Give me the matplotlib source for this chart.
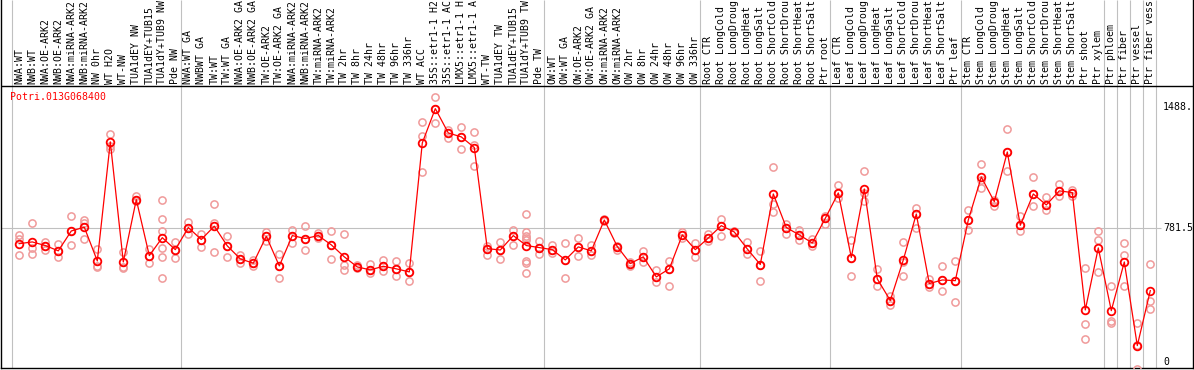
import matplotlib
matplotlib.use("Agg")
import matplotlib.pyplot as plt

# ---------------- data ----------------
labels = [
    "NWA:WT", "NWB:WT", "NWA:OE-ARK2", "NWB:OE-ARK2", "NWA:miRNA-ARK2", "NWB:miRNA-ARK2",
    "NW 0hr", "WT H2O", "WT-NW", "TUA1dEY NW", "TUA1dEY+TUB15", "TUA1dY+TUB9 NW", "Pde NW",
    "NWA:WT GA", "NWBWT GA", "TW:WT", "TW:WT GA", "NWA:OE-ARK2 GA", "NWB:OE-ARK2 GA",
    "TW:OE-ARK2", "TW:OE-ARK2 GA", "NWA:miRNA-ARK2", "NWB:miRNA-ARK2", "TW:miRNA-ARK2",
    "TW:miRNA-ARK2", "TW 2hr", "TW 8hr", "TW 24hr", "TW 48hr", "TW 96hr", "TW 336hr",
    "WT ACC", "35S::etr1-1 H2", "35S::etr1-1 AC", "LMX5::etr1-1 H", "LMX5::etr1-1 A",
    "WT-TW", "TUA1dEY TW", "TUA1dEY+TUB15", "TUA1dY+TUB9 TW", "Pde TW",
    "OW:WT", "OW:WT GA", "OW:OE-ARK2", "OW:OE-ARK2 GA", "OW:miRNA-ARK2", "OW:miRNA-ARK2",
    "OW 2hr", "OW 8hr", "OW 24hr", "OW 48hr", "OW 96hr", "OW 336hr",
    "Root CTR", "Root LongCold", "Root LongDroug", "Root LongHeat", "Root LongSalt",
    "Root ShortCold", "Root ShortDrou", "Root ShortHeat", "Root ShortSalt", "Ptr root",
    "Leaf CTR", "Leaf LongCold", "Leaf LongDroug", "Leaf LongHeat", "Leaf LongSalt",
    "Leaf ShortCold", "Leaf ShortDrou", "Leaf ShortHeat", "Leaf ShortSalt", "Ptr leaf",
    "Stem CTR", "Stem LongCold", "Stem LongDroug", "Stem LongHeat", "Stem LongSalt",
    "Stem ShortCold", "Stem ShortDrou", "Stem ShortHeat", "Stem ShortSalt", "Ptr shoot",
    "Ptr xylem", "Ptr phloem", "Ptr fiber", "Ptr vessel", "Ptr fiber vess",
]

means = [
    689, 699, 678, 647, 763, 785, 588, 1283, 582, 946, 619, 724, 654,
    783, 713, 791, 676, 600, 575, 732, 559, 736, 719, 736, 682,
    612, 553, 536, 557, 542, 524,
    1277, 1477, 1335, 1312, 1250, 660, 652, 736, 678, 666,
    654, 594, 670, 647, 827, 672, 573, 612, 495, 542, 740, 654,
    722, 794, 757, 658, 567, 979, 783, 740, 693, 837,
    985, 608, 1008, 483, 357, 594, 862, 456, 477, 473,
    827, 1078, 934, 1224, 796, 979, 915, 997, 987, 302, 664,
    298, 582, 94, 415,
]

replicates = [
    [738, 719, 625], [810, 664, 629], [699, 678, 650], [687, 647, 612], [853, 763, 680],
    [829, 810, 719], [660, 557, 551], [1331, 1257, 1242], [641, 553, 544], [966, 946, 936],
    [660, 619, 577], [946, 835, 763, 664, 612, 489], [699, 654, 606],
    [814, 783, 748], [748, 713, 670], [923, 810, 641], [736, 676, 610], [625, 600, 577],
    [596, 575, 557], [755, 732, 707], [629, 559, 489], [771, 736, 693], [791, 719, 654],
    [752, 736, 722], [765, 682, 602], [748, 563, 536], [563, 553, 547], [571, 536, 518],
    [596, 557, 532], [590, 542, 503], [578, 524, 473],
    [1399, 1316, 1108], [1543, 1477, 1395], [1355, 1335, 1306], [1368, 1312, 1242],
    [1343, 1263, 1145], [678, 660, 621], [701, 652, 602], [771, 736, 684],
    [862, 755, 732, 722, 709, 590, 578, 516], [703, 666, 631],
    [684, 654, 633], [693, 594, 489], [720, 670, 619], [682, 647, 621], [830, 827, 820],
    [678, 672, 654], [580, 573, 561], [647, 612, 580], [536, 495, 464], [588, 542, 444],
    [755, 740, 720], [693, 654, 612],
    [748, 722, 707], [833, 794, 736], [763, 757, 752], [697, 658, 629], [645, 567, 472],
    [1137, 919, 874], [802, 783, 744], [771, 740, 709], [717, 693, 674], [849, 837, 806],
    [1034, 985, 956], [713, 608, 503], [1115, 985, 938], [542, 483, 440], [382, 357, 333],
    [697, 581, 503], [899, 862, 781], [483, 456, 437], [561, 477, 415], [588, 473, 347],
    [888, 827, 771], [1156, 1063, 1012], [946, 934, 907], [1360, 1224, 1115],
    [853, 796, 761], [1078, 979, 907], [962, 915, 888], [1038, 997, 966], [1001, 987, 970],
    [547, 221, 135], [765, 713, 522],
    [440, 240, 227], [693, 621, 444], [227, 97, -42], [573, 357, 310],
]

group_ends = [-1, 12, 40, 52, 62, 72, 83, 84, 85, 86, 87]
gene_name = "Potri.013G068400"
ytick_values = [1488, 781.5, 0]
ytick_texts = ["1488.", "781.5", "0"]

# ---------------- layout ----------------
W, H = 1194, 370
X0, DX = 19.3, 13.0           # pixel position of first sample and spacing
Y0, DY = 361.7, 0.17134       # pixel row of value 0 and pixels per unit


def px_to_x(px):
    return (px - X0) / DX


def py_to_v(py):
    return (Y0 - py) / DY


fig = plt.figure(figsize=(W / 100, H / 100), dpi=100)
ax = fig.add_axes([1 / W, 2 / H, 1192 / W, 368 / H])
ax.set_xlim(px_to_x(1), px_to_x(1193))
ax.set_ylim(py_to_v(368), py_to_v(0))
ax.set_xticks([])
ax.set_yticks([])
for s in ["left", "right", "bottom"]:
    ax.spines[s].set_color("black")
    ax.spines[s].set_linewidth(1.0)
ax.spines["top"].set_visible(False)

MONO = "DejaVu Sans Mono"
FS = 7.1
grey = "#c0c0c0"

# group separators
ax.vlines([g + 0.4 for g in group_ends], py_to_v(368), py_to_v(0), color=grey, lw=0.8, zorder=1)
# separator between label band and plot
ax.axhline(py_to_v(85.5), color="black", lw=1.0, zorder=2)
# reference line at 781.5
ax.hlines(781.5, px_to_x(1), px_to_x(1161), color=grey, lw=0.8, zorder=1)

x = list(range(len(means)))

# replicate points
for i, reps in enumerate(replicates):
    ax.plot([i] * len(reps), reps, "o", mfc="none", mec="#f09a9a", ms=5.2, mew=1.1, zorder=3)

# mean line and markers
ax.plot(x, means, color="red", lw=0.9, zorder=4)
ax.plot(x, means, "o", mfc="none", mec="red", ms=5.5, mew=1.3, zorder=5)

# sample labels (rotated)
for i, lab in enumerate(labels):
    ax.text(i, py_to_v(83.5), lab, rotation=90, ha="center", va="bottom",
            fontsize=FS, family=MONO, color="black", clip_on=False)

# gene name
ax.text(px_to_x(10), py_to_v(97), gene_name, ha="left", va="center",
        fontsize=FS, family=MONO, color="red")

# y value labels on right
for v, t in zip(ytick_values, ytick_texts):
    ax.text(px_to_x(1163), v, t, ha="left", va="center", fontsize=FS, family=MONO, color="black")

fig.savefig("out.png", dpi=100)
